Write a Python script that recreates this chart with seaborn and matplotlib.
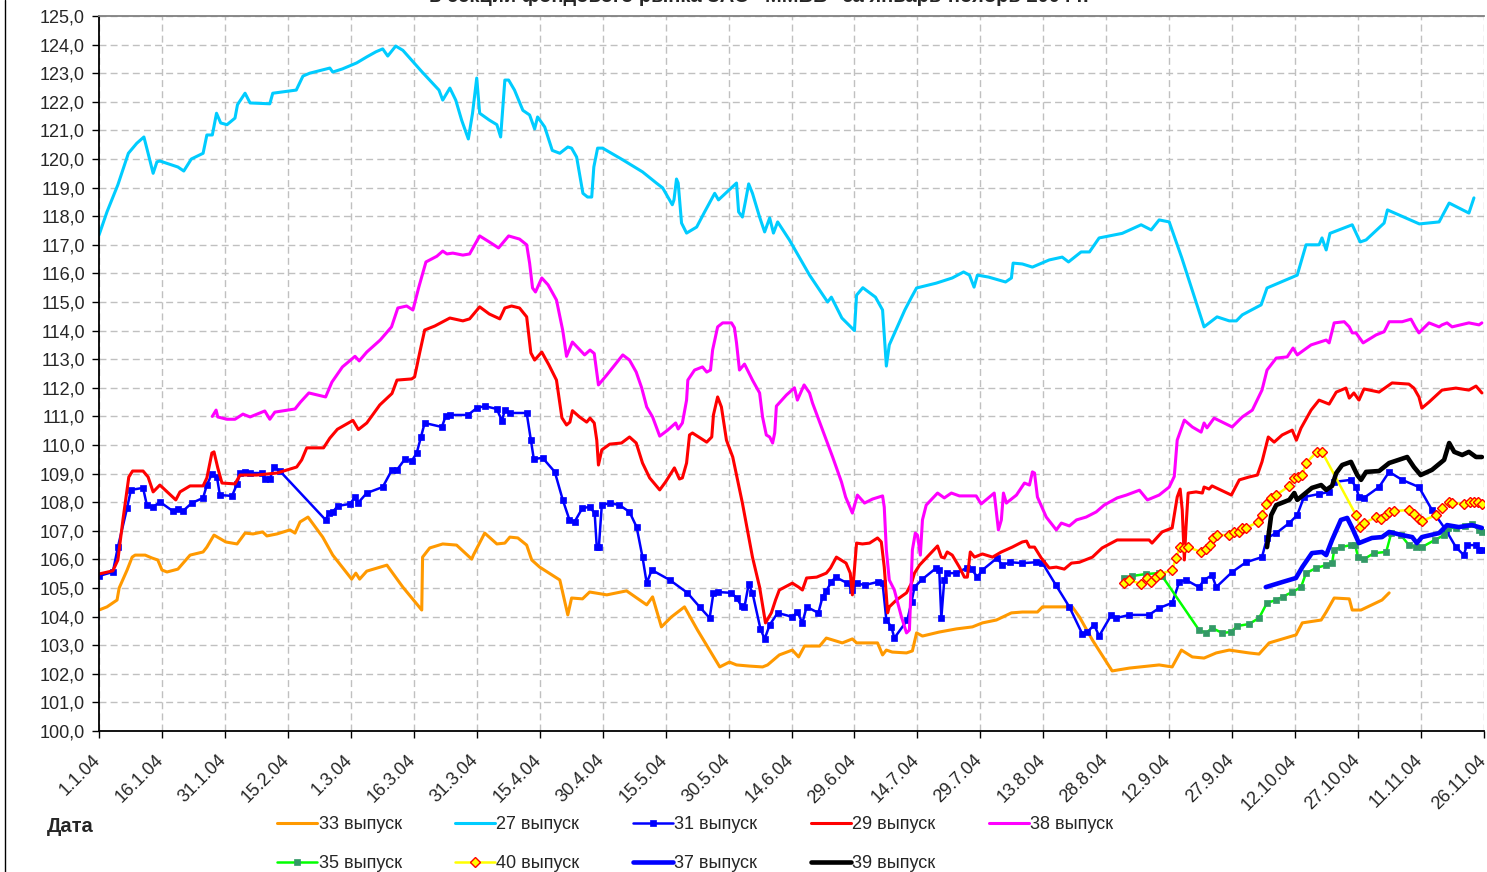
import numpy as np
import pandas as pd
import matplotlib
matplotlib.use("Agg")
import matplotlib.pyplot as plt
import matplotlib.transforms as mtransforms
from matplotlib.lines import Line2D
import seaborn as sns

# ---------------- data (day = days since 1 Jan 2004, value = price) ----------------
s33 = [(0,104.23),(1.9,104.34),(4.3,104.58),(4.8,105.0),(6.7,105.63),(7.9,106.08),(8.6,106.15),(11,106.15),(12.6,106.05),(14,105.98),(15,105.63),(16.2,105.56),(18.8,105.66),(21.7,106.15),(24.8,106.26),(25.7,106.43),(27.4,106.85),(30.2,106.61),(32.9,106.54),(34.8,106.92),(36.7,106.89),(39,106.96),(40,106.82),(42.4,106.89),(45.5,107.03),(46.7,106.92),(47.9,107.31),(49.8,107.48),(53.3,106.78),(55.7,106.15),(60.2,105.31),(61.2,105.52),(62.1,105.31),(63.8,105.59),(68.6,105.8),(72.4,105.03),(76.9,104.23),(77.1,106.08),(78.8,106.4),(81.9,106.54),(85.2,106.5),(88.8,106.01),(89.2,106.15),(91.9,106.92),(94.8,106.54),(96.7,106.57),(97.9,106.78),(99.8,106.75),(101.9,106.5),(103.1,105.98),(105,105.73),(109.8,105.28),(110.5,104.83),(111.7,104.06),(112.6,104.65),(115.2,104.62),(116.9,104.86),(121,104.76),(125.7,104.9),(130.5,104.41),(131.9,104.69),(134,103.64),(136.4,103.99),(139.5,104.34),(142.6,103.53),(147.9,102.24),(150.2,102.41),(151.9,102.31),(155,102.27),(158.1,102.24),(159.3,102.31),(162.1,102.66),(165.2,102.83),(166.7,102.59),(168.1,102.97),(171.7,102.97),(173.3,103.25),(177.1,103.08),(179.5,103.22),(180.5,103.08),(185.5,103.08),(186.7,102.66),(187.6,102.83),(189,102.76),(192.4,102.73),(193.8,102.8),(194.8,103.43),(196.2,103.32),(200.2,103.46),(204.3,103.57),(208.1,103.64),(210.5,103.78),(213.8,103.88),(217.4,104.13),(220,104.16),(223.6,104.16),(224.8,104.34),(231.9,104.34),(233.6,103.99),(236.7,103.18),(241.4,102.1),(245.5,102.2),(252.6,102.31),(255.7,102.24),(257.9,102.83),(260.5,102.59),(263.3,102.55),(266.2,102.73),(269.3,102.83),(274,102.73),(276.4,102.69),(278.8,103.08),(282,103.22),(285.2,103.36),(286.7,103.78),(291.2,103.88),(292.4,104.16),(294.3,104.65),(297.9,104.62),(298.6,104.23),(300.7,104.23),(305.7,104.58),(307.4,104.83)]

s27 = [(0,117.34),(1.9,118.15),(4.5,119.1),(7,120.2),(9,120.55),(10.7,120.77),(11.7,120.2),(12.9,119.5),(13.8,119.9),(14.5,119.93),(18.8,119.72),(20.2,119.58),(22,120.0),(24.8,120.2),(25.7,120.84),(27,120.84),(28,121.6),(29,121.26),(30.5,121.2),(32.4,121.43),(33,121.9),(34.8,122.3),(36,121.96),(40.7,121.93),(41.4,122.3),(47,122.41),(48.6,122.9),(50.2,123.0),(55,123.18),(55.7,123.04),(58,123.15),(61.4,123.36),(63.8,123.57),(66,123.75),(67.6,123.85),(68.8,123.6),(70.7,123.95),(72.4,123.8),(77,123.04),(81,122.41),(81.9,122.06),(83.6,122.48),(85,122.06),(86.4,121.36),(88,120.7),(89,121.6),(90,122.83),(90.7,121.6),(93,121.36),(94.8,121.2),(95.7,120.77),(96.7,122.76),(97.6,122.76),(99,122.41),(101,121.7),(102.6,121.54),(103.8,121.05),(104.5,121.47),(106.2,121.12),(108,120.3),(109.8,120.2),(111.7,120.42),(112.6,120.38),(113.8,120.07),(115.3,118.8),(116.4,118.67),(117.4,118.67),(117.9,119.72),(118.8,120.38),(120,120.38),(124.8,119.97),(129.5,119.55),(132.8,119.16),(134.3,118.99),(136.6,118.4),(137,118.57),(137.6,119.3),(138,119.16),(138.8,117.76),(140,117.41),(142.4,117.62),(144.3,118.15),(146.7,118.8),(147.6,118.57),(151.9,119.16),(152.4,118.15),(153.3,117.97),(154,118.5),(154.8,119.13),(155.7,118.8),(157.4,117.97),(158.6,117.45),(159.8,117.94),(160.7,117.41),(161.7,117.8),(164.5,117.17),(169.3,115.94),(173.6,115.0),(174.5,115.17),(177,114.44),(180,114.0),(180.5,115.24),(182,115.5),(185,115.17),(186.7,114.72),(187.6,112.76),(188.3,113.5),(192,114.72),(193.6,115.17),(194.8,115.49),(199.5,115.66),(203.3,115.84),(206,116.05),(207.4,115.94),(208.5,115.52),(209.3,115.94),(212,115.87),(216,115.7),(217.4,115.84),(217.8,116.36),(220,116.33),(222.4,116.22),(226.4,116.47),(229.5,116.57),(231,116.4),(234,116.75),(236,116.75),(238.3,117.24),(243.8,117.4),(248.3,117.7),(250.7,117.52),(252.6,117.87),(255,117.8),(258,116.54),(263.3,114.13),(266.4,114.48),(269.3,114.34),(271,114.34),(272.4,114.55),(276.9,114.9),(278.3,115.49),(285.5,115.94),(287.6,117.0),(290.7,117.0),(291.4,117.24),(292.4,116.82),(293.3,117.4),(298.6,117.7),(300.5,117.1),(301.9,117.17),(306.2,117.76),(307,118.22),(314.6,117.73),(319.3,117.8),(321.7,118.46),(326.4,118.11),(327.6,118.64)]

s31 = [(0,105.42),(3.3,105.56),(4.5,106.43),(6.7,107.8),(7.6,108.43),(10.5,108.5),(11.4,107.9),(12.9,107.83),(14.5,108.01),(17.6,107.69),(18.8,107.76),(20,107.69),(22.1,107.97),(24.8,108.15),(25.7,108.6),(26.9,108.99),(28.1,108.88),(28.8,108.25),(31.7,108.22),(32.9,108.64),(33.6,109.02),(34.8,109.06),(36,109.02),(38.8,109.02),(39.5,108.81),(40.7,108.81),(41.7,109.23),(43.1,109.09),(54,107.38),(54.8,107.62),(55.7,107.66),(56.9,107.87),(59.8,107.94),(61,108.18),(61.7,107.97),(63.8,108.32),(67.6,108.53),(69.8,109.13),(71,109.13),(72.9,109.51),(74.5,109.44),(75.7,109.72),(76.7,110.28),(77.6,110.77),(81.7,110.63),(82.6,111.01),(83.6,111.05),(87.9,111.05),(90,111.29),(91.9,111.36),(94.8,111.26),(96,110.84),(96.7,111.22),(97.9,111.12),(101.9,111.12),(102.9,110.17),(103.6,109.51),(105.7,109.55),(108.6,109.06),(110.5,108.08),(112.1,107.38),(113.3,107.31),(115.2,107.8),(116.9,107.83),(118.1,107.62),(118.6,106.43),(119.1,106.43),(119.8,107.9),(121.7,107.97),(124,107.9),(126.4,107.66),(128.1,107.13),(129.5,106.08),(130.5,105.17),(131.7,105.63),(136,105.28),(140.2,104.83),(143.1,104.34),(145.5,103.95),(146.4,104.83),(147.4,104.86),(150.7,104.83),(151.9,104.65),(153.1,104.37),(153.8,104.34),(154.8,105.14),(155.7,104.83),(157.6,103.57),(158.6,103.22),(159.8,103.71),(161.7,104.13),(165.2,103.99),(166.4,104.16),(167.6,103.78),(168.6,104.34),(171.4,104.13),(172.4,104.69),(173.3,104.9),(174.5,105.21),(175.5,105.38),(178.3,105.17),(179.5,104.93),(180.5,105.17),(182.4,105.1),(185.5,105.21),(186.7,105.17),(187.6,103.88),(188.8,103.64),(189.5,103.25),(192.6,103.88),(193.6,104.51),(194.3,105.03),(196.2,105.31),(199.5,105.7),(200.2,105.63),(200.7,103.95),(201.4,105.28),(202.1,105.52),(204.3,105.52),(206.7,105.7),(207.9,105.66),(209.3,105.38),(210.5,105.63),(214,106.05),(215.2,105.8),(217.1,105.9),(220,105.87),(223.3,105.9),(224.8,105.87),(228,105.1),(231.2,104.34),(234.3,103.39),(235.5,103.46),(237.1,103.71),(238.3,103.32),(241.2,104.06),(242.4,103.95),(245.5,104.06),(250.2,104.06),(252.6,104.3),(255.7,104.48),(257.4,105.21),(259,105.28),(262.1,105.03),(263.3,105.28),(265.2,105.45),(266.2,105.03),(270,105.56),(273.3,105.9),(277.1,106.08),(278.3,106.75),(280.5,106.92),(283.6,107.27),(285.5,107.55),(287.1,108.18),(290.7,108.29),(293.1,108.36),(294.3,108.71),(298.3,108.78),(299.5,108.53),(300.2,108.18),(301.4,108.15),(305,108.53),(307.4,109.06),(310.5,108.78),(314.5,108.53),(317.6,107.73),(320.9,107.03),(323.3,106.43),(325.2,106.15),(325.9,106.5),(328.1,106.5),(328.8,106.33),(329.5,106.33)]

s29 = [(0,105.49),(3.3,105.6),(4.5,105.98),(5.7,107.38),(7.1,108.88),(8,109.09),(10.5,109.09),(11.7,108.88),(12.9,108.36),(14.5,108.6),(18.3,108.08),(19.3,108.36),(21.7,108.57),(24.8,108.57),(25.7,108.85),(26.9,109.72),(27.4,109.76),(28.3,109.2),(29.3,108.67),(32.4,108.64),(33.6,108.95),(37.6,108.95),(42.4,109.02),(47.1,109.23),(48.3,109.48),(49.5,109.9),(53.5,109.9),(55,110.24),(56.8,110.55),(60.5,110.86),(61.8,110.54),(63.8,110.77),(66.9,111.4),(69.8,111.8),(71,112.27),(74.5,112.31),(75.2,112.38),(76.4,113.22),(77.6,114.02),(80,114.16),(83.6,114.44),(86.7,114.34),(88.3,114.41),(90.7,114.83),(93,114.58),(95.5,114.41),(96.7,114.79),(98.3,114.86),(100.2,114.79),(101.9,114.48),(102.9,113.22),(103.8,112.97),(105.5,113.25),(107.2,112.8),(109,112.27),(110.3,110.95),(111.4,110.7),(112.2,110.8),(112.8,111.2),(114.5,110.98),(116.2,110.8),(117,110.94),(118,110.77),(118.6,110.17),(119,109.3),(119.8,109.83),(121.7,110.03),(124.5,110.07),(126.4,110.28),(128,110.07),(129.5,109.37),(131.2,108.85),(133.6,108.43),(135,108.71),(137.1,109.2),(138.3,108.81),(139,108.85),(140,109.37),(140.7,110.35),(141.4,110.42),(144.8,110.1),(146,110.28),(146.4,111.05),(147.4,111.68),(148.3,111.33),(149.5,110.17),(151,109.58),(153.3,107.97),(155.7,106.08),(157.4,105.03),(158.8,103.78),(160.2,104.13),(161.2,104.58),(162.1,104.93),(165.2,105.17),(166.7,105.03),(167.6,104.93),(168.6,105.35),(171,105.38),(173.3,105.52),(174.3,105.7),(175.7,106.08),(178,105.87),(179,105.52),(179.5,104.76),(180.5,106.57),(181.9,106.54),(183.6,106.57),(185.5,106.75),(186.4,106.61),(187.1,105.73),(187.9,104.13),(188.3,104.34),(190,104.58),(192.4,104.83),(193.6,105.17),(194.3,105.52),(195.5,105.8),(197.1,106.05),(199.8,106.47),(200.7,106.08),(201.4,106.05),(202.1,106.26),(203.3,106.15),(205,105.73),(206.2,105.38),(206.9,105.38),(207.6,106.26),(208.6,106.08),(210.5,106.19),(212.9,106.08),(215,106.26),(217.6,106.43),(220,106.61),(221,106.64),(221.7,106.43),(222.9,106.43),(224.5,106.05),(226.4,105.7),(228.1,105.73),(230,105.66),(231.7,105.87),(233.6,105.9),(236.7,106.08),(239,106.4),(242.6,106.68),(250.2,106.68),(250.9,106.57),(253.3,106.96),(255.7,107.1),(256.9,108.18),(257.6,108.46),(258.1,107.73),(258.6,105.98),(259,107.13),(259.5,108.32),(261.4,108.36),(262.9,108.32),(263.3,108.53),(264.5,108.46),(265.2,108.57),(269.8,108.25),(271.7,108.78),(274,108.88),(276,108.95),(277.1,109.41),(278.6,110.28),(280,110.1),(281.9,110.35),(284.3,110.52),(285.3,110.17),(286.4,110.59),(288.8,111.22),(290.7,111.57),(293.1,111.43),(294.8,111.85),(297.1,111.99),(297.9,111.64),(299,111.82),(300.2,111.57),(301.4,111.96),(305,111.85),(308.1,112.17),(312.1,112.13),(313.3,111.99),(314.5,111.68),(315.2,111.29),(316.9,111.5),(320,111.92),(323.3,111.99),(326.4,111.92),(328.1,112.06),(329.5,111.82)]

s38 = [(27,111.0),(27.9,111.22),(28.3,110.98),(30.5,110.9),(32.4,110.9),(34.3,111.08),(36,110.98),(39.5,111.19),(40.7,110.9),(41.9,111.15),(46.7,111.26),(48,111.5),(50,111.82),(54,111.68),(55.5,112.2),(58,112.73),(61,113.1),(62,112.94),(63.8,113.25),(67,113.67),(69.7,114.13),(71.2,114.79),(73.3,114.86),(74.8,114.72),(76.2,115.52),(77.9,116.4),(80.5,116.6),(81.9,116.78),(82.9,116.68),(84.3,116.71),(86.7,116.64),(88.3,116.68),(90.7,117.31),(93,117.1),(95.2,116.89),(97.6,117.31),(100.2,117.2),(101.9,117.0),(102.6,116.36),(103.3,115.49),(104,115.35),(105.5,115.84),(107,115.6),(109,115.07),(110.5,114.0),(111.4,113.1),(112.8,113.6),(115.7,113.15),(117,113.32),(118,113.2),(119,112.1),(121,112.45),(124.8,113.15),(126.4,112.97),(128,112.55),(129.3,112.0),(130.5,111.33),(131.9,110.98),(133.6,110.31),(135.5,110.52),(137.4,110.77),(138,110.56),(139,110.77),(140,111.57),(140.3,112.27),(141.9,112.62),(143.8,112.73),(144.8,112.55),(145.7,112.62),(146.2,113.32),(147.4,114.13),(148.6,114.27),(150.7,114.27),(151.4,114.1),(151.9,113.57),(152.6,112.62),(153.8,112.83),(155.7,112.27),(157.4,111.82),(158.1,110.98),(159,110.35),(159.8,110.28),(160.5,110.07),(161,110.42),(161.4,111.36),(163.8,111.75),(165.7,112.0),(166.4,111.57),(168,112.1),(169.3,111.82),(170,111.47),(172.4,110.52),(174.8,109.58),(176.9,108.71),(177.9,108.18),(179.5,107.62),(180.7,108.25),(182.4,107.97),(184.3,108.11),(186.7,108.22),(187.1,107.83),(187.6,106.33),(188.3,105.28),(189.5,104.93),(191.2,103.99),(192.4,103.43),(193.1,103.53),(193.8,106.33),(194.5,106.92),(195,106.85),(195.7,106.15),(196.2,107.38),(197.1,107.9),(199.8,108.32),(201.4,108.15),(203.1,108.32),(205,108.22),(209,108.22),(210.2,107.94),(213.3,108.32),(214.3,107.03),(215,107.38),(215.5,108.32),(216.2,107.97),(218.6,108.25),(220.5,108.67),(221.7,108.6),(222.4,109.06),(222.9,109.02),(223.6,108.18),(225.7,107.48),(228.1,107.03),(229.3,107.27),(231.2,107.17),(232.9,107.38),(235.2,107.48),(237.6,107.66),(239.5,107.9),(242.6,108.15),(244.8,108.25),(247.9,108.42),(249.8,108.08),(252.6,108.25),(255,108.53),(256.2,108.9),(256.9,110.17),(258.6,110.87),(260.5,110.63),(262.6,110.45),(263.3,110.77),(264,110.6),(265.7,110.94),(270,110.63),(272.4,110.98),(274.8,111.22),(277.1,111.92),(278.3,112.62),(280.5,113.04),(283.1,113.08),(284.5,113.39),(285.5,113.15),(288.8,113.5),(292.4,113.67),(293.1,113.57),(294.3,114.27),(296.7,114.31),(297.9,114.13),(298.6,113.92),(299.5,113.92),(301.2,113.57),(304.3,113.85),(306.2,113.96),(307.4,114.31),(310.5,114.31),(312.6,114.4),(313.6,114.13),(314.5,113.92),(316.9,114.27),(319.3,114.13),(320,114.2),(321.2,114.27),(322.4,114.13),(326.4,114.27),(328.8,114.2),(329.5,114.27)]

s35 = [(244.3,105.35),(246.2,105.42),(249.5,105.49),(252.6,105.52),(253.3,105.42),(262.1,103.53),(263.8,103.43),(265.2,103.6),(267.6,103.43),(269.8,103.46),(271.2,103.67),(274,103.74),(276.4,103.95),(278.3,104.48),(280.5,104.58),(282,104.69),(284.3,104.86),(286.4,105.03),(287.6,105.52),(290,105.7),(292.4,105.8),(293.8,105.87),(294.3,106.33),(295.9,106.43),(298.3,106.5),(299.3,106.5),(300,106.08),(301.4,106.01),(303.8,106.22),(306.7,106.26),(307.9,106.92),(310.2,106.85),(312.1,106.5),(313.8,106.43),(315.2,106.43),(318.3,106.68),(320.5,106.85),(321.4,107.1),(323.3,107.1),(325.5,107.17),(327.1,107.24),(328.8,107.03),(329.5,106.96)]

s40 = [(244.3,105.17),(245.5,105.28),(248.3,105.14),(249.8,105.35),(250.7,105.21),(251.9,105.38),(252.9,105.49),(255.7,105.63),(256.6,106.05),(257.6,106.43),(258.6,106.4),(259.5,106.43),(262.6,106.26),(263.8,106.36),(264.8,106.5),(265.5,106.75),(266.4,106.85),(269.3,106.85),(270.5,106.96),(271.7,106.96),(272.4,107.1),(273.3,107.1),(276.2,107.31),(277.1,107.55),(278.1,107.94),(279.3,108.15),(280.5,108.25),(283.6,108.57),(284.8,108.85),(285.7,108.88),(286.7,108.95),(287.6,109.37),(290.2,109.76),(291.4,109.76),(299.5,107.55),(300.5,107.13),(301.4,107.27),(304.3,107.48),(305.5,107.41),(306.7,107.55),(307.4,107.66),(308.6,107.69),(312.1,107.73),(313.3,107.59),(314.5,107.41),(315.2,107.34),(318.6,107.55),(320,107.8),(321.7,108.01),(322.4,107.97),(325.2,107.94),(326.6,108.01),(327.6,108.01),(328.6,108.01),(329.5,107.94)]

s37 = [(278,105.03),(282,105.21),(285.2,105.35),(286.7,105.73),(289,106.22),(291.4,106.26),(292.4,106.15),(293.8,106.68),(295.9,107.38),(297.4,107.45),(298.6,107.1),(300.2,106.57),(303.3,106.75),(305.7,106.78),(307.4,106.96),(310.5,106.85),(312.9,106.78),(314,106.57),(315.2,106.78),(319.3,106.92),(321.2,107.2),(324,107.13),(327.1,107.2),(329.5,107.1)]

s39 = [(278.3,106.43),(279.3,107.55),(280.5,107.9),(283.6,108.08),(284.8,108.32),(285.5,108.08),(289,108.5),(291.2,108.6),(292.4,108.43),(293.8,108.57),(294.8,109.02),(296.2,109.3),(298.3,109.41),(299.8,108.95),(300.7,108.78),(301.9,109.06),(305,109.09),(307.4,109.37),(311.7,109.58),(313.3,109.23),(314.9,108.95),(317.6,109.13),(320.5,109.48),(321.7,110.07),(322.9,109.76),(324.8,109.65),(326.4,109.76),(328.1,109.58),(329.5,109.58)]

series_names = ["33 выпуск", "27 выпуск", "31 выпуск", "29 выпуск", "38 выпуск",
                "35 выпуск", "40 выпуск", "37 выпуск", "39 выпуск"]
title_text = 'в секции фондового рынка ЗАО "ММВБ" за январь-ноябрь 2004 г.'
x_label_text = "Дата"
y_ticks = list(range(100, 126))
start_date = pd.Timestamp("2004-01-01")
tick_step_days = 15
n_ticks = 23

# ---------------- styles ----------------
styles = {
    "33 выпуск": dict(color="#FF9900", linewidth=2.2),
    "27 выпуск": dict(color="#00CCFF", linewidth=2.2),
    "31 выпуск": dict(color="#0000FF", linewidth=1.8, marker="s", markersize=4.2,
                      markerfacecolor="#0000FF", markeredgecolor="#0000FF", markeredgewidth=0.5),
    "29 выпуск": dict(color="#FF0000", linewidth=2.2),
    "38 выпуск": dict(color="#FF00FF", linewidth=2.2),
    "35 выпуск": dict(color="#00FF00", linewidth=1.8, marker="s", markersize=4.5,
                      markerfacecolor="#339966", markeredgecolor="#339966", markeredgewidth=0.5),
    "40 выпуск": dict(color="#FFFF00", linewidth=1.8, marker="D", markersize=5.5,
                      markerfacecolor="#FFFF00", markeredgecolor="#FF0000", markeredgewidth=1.0),
    "37 выпуск": dict(color="#0000FF", linewidth=3.3),
    "39 выпуск": dict(color="#000000", linewidth=3.3),
}
data = {"33 выпуск": s33, "27 выпуск": s27, "31 выпуск": s31, "29 выпуск": s29,
        "38 выпуск": s38, "35 выпуск": s35, "40 выпуск": s40, "37 выпуск": s37,
        "39 выпуск": s39}

# ---------------- figure ----------------
sns.set_theme(style="white")
plt.rcParams["font.family"] = ["Liberation Sans", "DejaVu Sans"]

W, H = 1487, 872
fig = plt.figure(figsize=(W / 100, H / 100), dpi=100)
fig.patch.set_facecolor("white")
ax = fig.add_axes([99 / W, 1 - 731 / H, (1484 - 99) / W, (731 - 16) / H])
ax.set_facecolor("white")

for name in series_names:
    pts = data[name]
    days = np.array([p[0] for p in pts])
    vals = np.array([p[1] for p in pts])
    dates = start_date + pd.to_timedelta(days, unit="D")
    df = pd.DataFrame({"date": dates, "value": vals})
    sns.lineplot(data=df, x="date", y="value", ax=ax, sort=False, estimator=None,
                 legend=False, solid_joinstyle="round", **styles[name])

# axes limits / ticks
ax.set_xlim(start_date, start_date + pd.Timedelta(days=tick_step_days * (n_ticks - 1)))
ax.set_ylim(100, 125)
xt = [start_date + pd.Timedelta(days=tick_step_days * k) for k in range(n_ticks)]
ax.set_xticks(xt)
ax.set_xticklabels([f"{d.day}.{d.month}.{d.strftime('%y')}" for d in xt],
                   rotation=45, ha="right", va="top", rotation_mode="anchor", fontsize=13)
ax.set_yticks(y_ticks)
ax.set_yticklabels([f"{v:.1f}".replace(".", ",") for v in y_ticks], fontsize=13)
ax.tick_params(axis="both", which="major", direction="out", length=5, width=1,
               color="black", bottom=True, left=True)
ax.tick_params(axis="x", pad=10)
ax.tick_params(axis="y", pad=5)
ax.set_xlabel("")
ax.set_ylabel("")

# shift the rotated date labels slightly left, as in the reference
shift = mtransforms.ScaledTranslation(-7 / 100, 0, fig.dpi_scale_trans)
for lab in ax.get_xticklabels():
    lab.set_transform(lab.get_transform() + shift)

ax.grid(True, which="major", color="#C0C0C0", linestyle=(0, (5, 3)), linewidth=1.0)
ax.set_axisbelow(True)
for sp in ["left", "bottom"]:
    ax.spines[sp].set_color("black")
    ax.spines[sp].set_linewidth(1.3)
ax.spines["top"].set_color("#808080")
ax.spines["top"].set_linewidth(1.3)
ax.spines["right"].set_visible(False)

# title (cut at top like reference)
fig.text(759 / W, 1 - 2.5 / H, title_text, ha="center", va="baseline",
         fontsize=14.5, fontweight="bold")

# x label "Дата"
fig.text(70 / W, 1 - 826 / H, x_label_text, ha="center", va="center",
         fontsize=14.5, fontweight="bold")

# left border of chart area
fig.add_artist(Line2D([5 / W, 5 / W], [0, 1], transform=fig.transFigure,
                      color="black", linewidth=1.0))

# legend (row-major display via column-major order)
handles = {n: Line2D([], [], **styles[n]) for n in series_names}
order = ["33 выпуск", "35 выпуск", "27 выпуск", "40 выпуск", "31 выпуск",
         "37 выпуск", "29 выпуск", "39 выпуск", "38 выпуск"]
leg = fig.legend([handles[n] for n in order], order, loc="upper left",
                 bbox_to_anchor=(277 / W, 1 - 816 / H), ncol=5, frameon=False,
                 fontsize=13, handlelength=2.2, handletextpad=0.1,
                 columnspacing=2.95, labelspacing=1.22, borderpad=0, borderaxespad=0,
                 numpoints=1)

fig.savefig("out.png", dpi=100, facecolor="white")
